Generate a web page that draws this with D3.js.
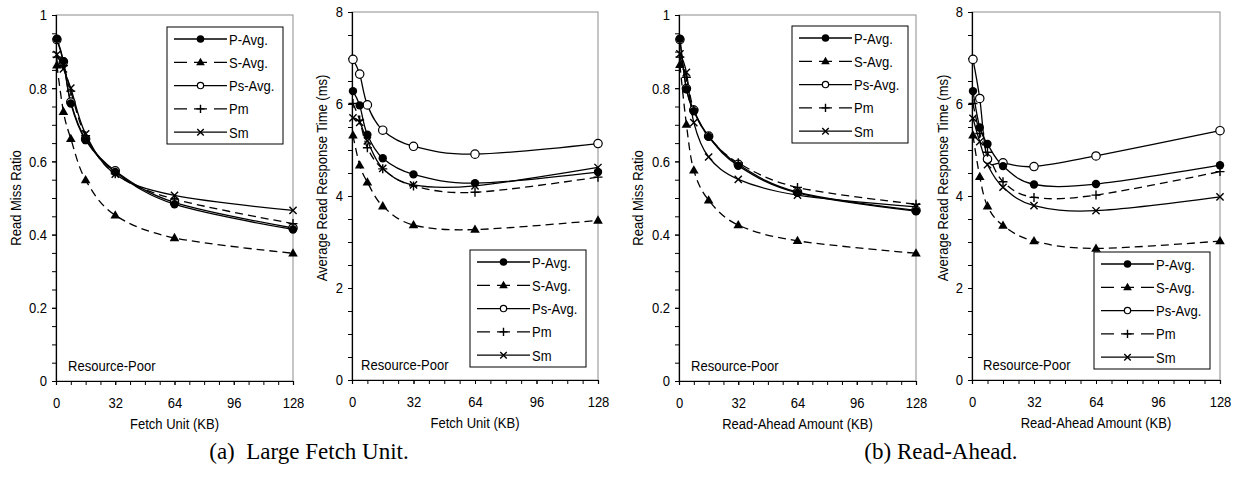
<!DOCTYPE html>
<html>
<head>
<meta charset="utf-8">
<script src="https://cdn.jsdelivr.net/npm/d3@7"></script>
<style>
body{margin:0;background:#fff;}
svg{display:block;font-family:"Liberation Sans",Arial,sans-serif;}
</style>
</head>
<body>
<div class="svg-container"></div>
<script>
// x positions (KB) shared by every panel
var sizesKB = [0.5, 4, 8, 16, 32, 64, 128];
var seriesNames = ['P-Avg.', 'S-Avg.', 'Ps-Avg.', 'Pm', 'Sm'];
var xTicks = [0, 32, 64, 96, 128];
var missTicks = [0, 0.2, 0.4, 0.6, 0.8, 1];
var timeTicks = [0, 2, 4, 6, 8];

// (a) large fetch unit, read miss ratio — rows follow seriesNames
var fetchMiss = [
  [0.935, 0.874, 0.758, 0.658, 0.571, 0.483, 0.414],
  [0.863, 0.736, 0.662, 0.549, 0.453, 0.391, 0.349],
  [0.933, 0.872, 0.762, 0.661, 0.574, 0.488, 0.418],
  [0.885, 0.862, 0.792, 0.670, 0.566, 0.497, 0.430],
  [0.892, 0.853, 0.800, 0.675, 0.565, 0.507, 0.466]
];
// (a) average read response time (ms)
var fetchTime = [
  [6.28, 5.97, 5.33, 4.82, 4.47, 4.28, 4.52],
  [5.32, 4.67, 4.30, 3.78, 3.37, 3.27, 3.47],
  [6.97, 6.65, 5.98, 5.43, 5.08, 4.91, 5.14],
  [6.01, 5.65, 5.05, 4.59, 4.22, 4.08, 4.41],
  [5.70, 5.60, 5.20, 4.60, 4.24, 4.22, 4.62]
];
// (b) read-ahead, read miss ratio
var aheadMiss = [
  [0.935, 0.797, 0.737, 0.667, 0.588, 0.514, 0.464],
  [0.864, 0.701, 0.576, 0.494, 0.426, 0.383, 0.349],
  [0.933, 0.799, 0.740, 0.669, 0.592, 0.516, 0.466],
  [0.885, 0.830, 0.742, 0.668, 0.596, 0.529, 0.483],
  [0.894, 0.843, 0.706, 0.612, 0.551, 0.508, 0.476]
];
// (b) average read response time (ms)
var aheadTime = [
  [6.28, 5.49, 5.13, 4.65, 4.25, 4.26, 4.67],
  [5.32, 4.42, 3.78, 3.36, 3.02, 2.86, 3.02],
  [6.97, 6.12, 4.80, 4.72, 4.64, 4.87, 5.42],
  [6.01, 5.36, 4.95, 4.31, 3.97, 4.02, 4.53],
  [5.69, 5.18, 4.68, 4.19, 3.79, 3.68, 3.98]
];

var chart = {
  mainSelect: '.svg-container',
  width: 1248,
  height: 477,
  fontSize: '15.5px',
  squeezeBy: 0.84, // the original labels are a narrow Arial
  // markers are drawn in this order so the hollow circles sit under the filled ones
  markOrder: [2, 1, 3, 4, 0],
  styles: [
    {dash: null, mark: 'dot'},
    {dash: '8,5', mark: 'tri'},
    {dash: null, mark: 'ring'},
    {dash: '8,5', mark: 'plus'},
    {dash: null, mark: 'cross'}
  ],
  panels: [
    {data: fetchMiss, l: 56, r: 293, t: 15, b: 381, yMax: 1, yTicks: missTicks, yMinor: 0.05,
     yTitle: 'Read Miss Ratio', xTitle: 'Fetch Unit (KB)', titleOff: 35, titleY: 198,
     legend: {x: 167, y: 27}, noteOff: 12},
    {data: fetchTime, l: 352, r: 598, t: 12, b: 380, yMax: 8, yTicks: timeTicks, yMinor: 0.5,
     yTitle: 'Average Read Response Time (ms)', xTitle: 'Fetch Unit (KB)', titleOff: 25, titleY: 178,
     legend: {x: 470, y: 250}, noteOff: 9},
    {data: aheadMiss, l: 679, r: 916, t: 15, b: 381, yMax: 1, yTicks: missTicks, yMinor: 0.05,
     yTitle: 'Read Miss Ratio', xTitle: 'Read-Ahead Amount (KB)', titleOff: 36, titleY: 198,
     legend: {x: 792, y: 26}, noteOff: 12},
    {data: aheadTime, l: 972, r: 1220, t: 12, b: 380, yMax: 8, yTicks: timeTicks, yMinor: 0.5,
     yTitle: 'Average Read Response Time (ms)', xTitle: 'Read-Ahead Amount (KB)', titleOff: 24, titleY: 178,
     legend: {x: 1094, y: 252}, noteOff: 11}
  ],
  captions: [
    {text: '(a)\u00a0 Large Fetch Unit.', x: 309},
    {text: '(b) Read-Ahead.', x: 941}
  ],

  makeBoard(){
    d3.select(chart.mainSelect).selectAll('svg').remove();
    chart.svg = d3.select(chart.mainSelect).append('svg')
      .attr('width', chart.width)
      .attr('height', chart.height);
    chart.panels.forEach(chart.makePanel);
    chart.svg.selectAll('text.caption')
      .data(chart.captions)
      .enter().append('text')
      .attr('class', 'caption')
      .attr('x', d => d.x)
      .attr('y', 459)
      .attr('text-anchor', 'middle')
      .style('font-family', '"Liberation Serif","Times New Roman",serif')
      .style('font-size', '23px')
      .text(d => d.text);
    // narrow every sans label to the same width the original uses
    chart.svg.selectAll('text:not(.caption)').each(function(){
      var w = this.getComputedTextLength();
      d3.select(this).attr('textLength', w * chart.squeezeBy).attr('lengthAdjust', 'spacingAndGlyphs');
    });
  },

  drawMark(g, mark, x, y, k){
    // k scales markers down in the legend
    if (mark === 'dot') {
      g.append('circle').attr('cx', x).attr('cy', y).attr('r', 4.2 * k).attr('fill', '#000');
    } else if (mark === 'ring') {
      g.append('circle').attr('cx', x).attr('cy', y).attr('r', 4.2 * k)
        .attr('fill', '#fff').attr('stroke', '#000').attr('stroke-width', 1.2);
    } else if (mark === 'tri') {
      g.append('path').attr('transform', 'translate(' + x + ',' + (y + 0.5) + ')')
        .attr('d', d3.symbol(d3.symbolTriangle, 40 * k * k)()).attr('fill', '#000');
    } else if (mark === 'plus') {
      var a = 4.5 * k;
      g.append('path').attr('d', 'M' + (x - a) + ',' + y + 'H' + (x + a) + 'M' + x + ',' + (y - a) + 'V' + (y + a))
        .attr('stroke', '#000').attr('stroke-width', 1.4);
    } else {
      var c = 3.6 * k;
      g.append('path').attr('d', 'M' + (x - c) + ',' + (y - c) + 'L' + (x + c) + ',' + (y + c) +
        'M' + (x - c) + ',' + (y + c) + 'L' + (x + c) + ',' + (y - c))
        .attr('stroke', '#000').attr('stroke-width', 1.4);
    }
  },

  makePanel(p){
    var g = chart.svg.append('g');
    var x = d3.scaleLinear().domain([0, 128]).range([p.l, p.r]);
    var y = d3.scaleLinear().domain([0, p.yMax]).range([p.b, p.t]);

    // grey frame on top / right
    g.append('rect')
      .attr('x', p.l).attr('y', p.t)
      .attr('width', p.r - p.l).attr('height', p.b - p.t)
      .attr('fill', 'none').attr('stroke', '#8c8c8c').attr('stroke-width', 1);

    // minor ticks first, then labelled axes
    var yFmt = p.yMax === 1 ? (d => d === 0 || d === 1 ? String(d) : d3.format('.1f')(d)) : d3.format('d');
    g.append('g').attr('transform', 'translate(' + p.l + ',0)')
      .call(d3.axisLeft(y).tickValues(d3.range(0, p.yMax + 1e-9, p.yMinor)).tickSize(4).tickFormat(''))
      .call(s => s.select('.domain').remove());
    var ya = g.append('g').attr('transform', 'translate(' + p.l + ',0)')
      .call(d3.axisLeft(y).tickValues(p.yTicks).tickSize(4).tickPadding(5).tickFormat(yFmt));
    g.append('g').attr('transform', 'translate(0,' + p.b + ')')
      .call(d3.axisBottom(x).tickValues(d3.range(0, 129, 8)).tickSize(4).tickFormat(''))
      .call(s => s.select('.domain').remove());
    var xa = g.append('g').attr('transform', 'translate(0,' + p.b + ')')
      .call(d3.axisBottom(x).tickValues(xTicks).tickSize(4).tickPadding(12));
    [ya, xa].forEach(a => {
      a.attr('font-family', null);
      a.selectAll('text').style('font-size', chart.fontSize).attr('fill', '#000');
      a.select('.domain').attr('stroke-width', 1.2);
    });

    g.append('text')
      .attr('transform', 'translate(' + (p.l - p.titleOff) + ',' + p.titleY + ') rotate(-90)')
      .attr('text-anchor', 'middle')
      .style('font-size', chart.fontSize)
      .text(p.yTitle);
    g.append('text')
      .attr('x', (p.l + p.r) / 2).attr('y', p.b + 48)
      .attr('text-anchor', 'middle')
      .style('font-size', chart.fontSize)
      .text(p.xTitle);
    g.append('text')
      .attr('x', p.l + p.noteOff).attr('y', p.b - 10)
      .style('font-size', chart.fontSize)
      .text('Resource-Poor');

    var line = d3.line()
      .x((d, i) => x(sizesKB[i]))
      .y(d => y(d))
      .curve(d3.curveCatmullRom.alpha(0));

    p.data.forEach((vals, si) => {
      var st = chart.styles[si];
      g.append('path')
        .attr('d', line(vals))
        .attr('fill', 'none')
        .attr('stroke', '#000')
        .attr('stroke-width', 1.3)
        .attr('stroke-dasharray', st.dash);
    });
    chart.markOrder.forEach(si => {
      p.data[si].forEach((v, i) => chart.drawMark(g, chart.styles[si].mark, x(sizesKB[i]), y(v), 1));
    });

    // legend box
    var lg = g.append('g').attr('transform', 'translate(' + p.legend.x + ',' + p.legend.y + ')');
    lg.append('rect').attr('width', 116).attr('height', 117)
      .attr('fill', '#fff').attr('stroke', '#000').attr('stroke-width', 1);
    seriesNames.forEach((name, i) => {
      var cy = 12 + i * 23.3;
      var st = chart.styles[i];
      lg.append('path')
        .attr('d', 'M7,' + cy + 'H60')
        .attr('stroke', '#000').attr('stroke-width', 1.3)
        .attr('stroke-dasharray', st.dash ? '13,7' : null);
      chart.drawMark(lg, st.mark, 33.5, cy, st.mark === 'ring' ? 0.75 : 0.9);
      lg.append('text').attr('x', 62).attr('y', cy + 5.5)
        .style('font-size', chart.fontSize).text(name);
    });
  }
};

document.addEventListener('DOMContentLoaded', function(event) {
  chart.makeBoard();
});
</script>
</body>
</html>
